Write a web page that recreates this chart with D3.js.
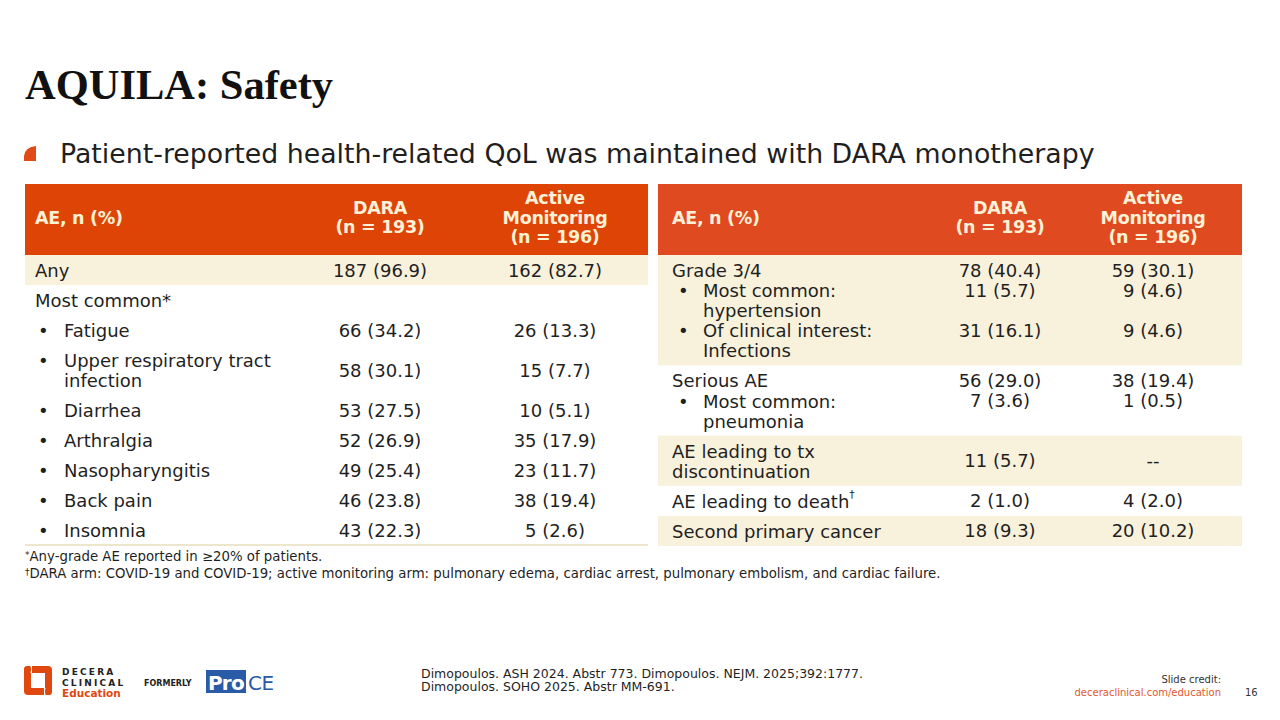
<!DOCTYPE html>
<html>
<head>
<meta charset="utf-8">
<script src="https://cdn.jsdelivr.net/npm/d3@7"></script>
<style>
  body { margin: 0; background: #fff; }
  svg { display: block; font-family: "DejaVu Sans", sans-serif; }
</style>
</head>
<body>
<svg id="slide" width="1280" height="720"></svg>
<script>
const TITLE = "AQUILA: Safety";
const SUBTITLE = "Patient-reported health-related QoL was maintained with DARA monotherapy";

const headerLabel = "AE, n (%)";
const headerDara = ["DARA", "(n = 193)"];
const headerAm = ["Active", "Monitoring", "(n = 196)"];

// left table: "• " marks a bullet item, "\n" a wrapped line
const leftLabels = ["Any", "Most common*", "• Fatigue", "• Upper respiratory tract\ninfection", "• Diarrhea",
    "• Arthralgia", "• Nasopharyngitis", "• Back pain", "• Insomnia"];
const leftDara = ["187 (96.9)", "", "66 (34.2)", "58 (30.1)", "53 (27.5)", "52 (26.9)", "49 (25.4)", "46 (23.8)", "43 (22.3)"];
const leftAm = ["162 (82.7)", "", "26 (13.3)", "15 (7.7)", "10 (5.1)", "35 (17.9)", "23 (11.7)", "38 (19.4)", "5 (2.6)"];
const leftGroups = [0, 1, 1, 1, 1, 1, 1, 1, 1];

const rightLabels = ["Grade 3/4", "• Most common:\nhypertension", "• Of clinical interest:\nInfections", "Serious AE",
    "• Most common:\npneumonia", "AE leading to tx\ndiscontinuation", "AE leading to death†", "Second primary cancer"];
const rightDara = ["78 (40.4)", "11 (5.7)", "31 (16.1)", "56 (29.0)", "7 (3.6)", "11 (5.7)", "2 (1.0)", "18 (9.3)"];
const rightAm = ["59 (30.1)", "9 (4.6)", "9 (4.6)", "38 (19.4)", "1 (0.5)", "--", "4 (2.0)", "20 (10.2)"];
const rightGroups = [0, 0, 0, 1, 1, 2, 3, 4];

const footnotes = [
    ["*", "Any-grade AE reported in ≥20% of patients."],
    ["†", "DARA arm: COVID-19 and COVID-19; active monitoring arm: pulmonary edema, cardiac arrest, pulmonary embolism, and cardiac failure."]
];
const references = [
    "Dimopoulos. ASH 2024. Abstr 773. Dimopoulos. NEJM. 2025;392:1777.",
    "Dimopoulos. SOHO 2025. Abstr MM-691."
];

const CREAM = "#f8f1db";
const HEAD_TEXT = "#fdf1d6";
const INK = "#1f1f1f";
const ORANGE = "#e0480f";
const BODY = 18;

const svg = d3.select("#slide");

// title + subtitle
svg.append("text")
    .attr("x", 25).attr("y", 99)
    .attr("font-family", "'Liberation Serif', serif")
    .attr("font-weight", 700)
    .attr("font-size", 42.5)
    .attr("fill", "#111")
    .text(TITLE);

svg.append("path")
    .attr("d", "M24,161 L24,156 Q25,147 36,146 L36,161 Z")
    .attr("fill", "#e04a17");

const sub = svg.append("text")
    .attr("x", 60).attr("y", 163)
    .attr("font-size", 25)
    .attr("fill", INK)
    .text(SUBTITLE);
// fit the line to the width it takes on the slide
const subW = sub.node().getComputedTextLength();
sub.attr("font-size", 25 * 1035 / subW);

function addLabel(g, str, x, y, size) {
    const t = g.append("text")
        .attr("x", x).attr("y", y)
        .attr("dominant-baseline", "central")
        .attr("font-size", size)
        .attr("fill", INK);
    const parts = str.split("†");
    t.append("tspan").text(parts[0]);
    if (parts.length > 1) {
        t.append("tspan")
            .attr("font-size", size * 0.6)
            .attr("dy", -7)
            .text("†");
    }
    return t;
}

function drawTable(cfg) {
    const g = svg.append("g");
    const lineH = 20;
    const rows = cfg.labels.map((label, i) => ({
        label, dara: cfg.dara[i], am: cfg.am[i], group: cfg.groups[i]
    }));
    const grouped = d3.groups(rows, d => d.group);

    let cursor = 0;
    const layout = [];
    grouped.forEach(([key, entries]) => {
        const top = cursor;
        cursor += (10 - cfg.pad) / 2;
        entries.forEach(e => {
            e.bullet = e.label.startsWith("• ");
            e.lines = (e.bullet ? e.label.slice(2) : e.label).split("\n");
            e.top = cursor;
            e.h = e.lines.length * lineH + cfg.pad;
            cursor += e.h;
        });
        cursor += (10 - cfg.pad) / 2;
        layout.push({ key, top, bottom: cursor, entries });
    });

    const y = d3.scaleLinear().domain([0, cursor]).range([cfg.bodyTop, cfg.bodyBottom]);
    const col = d3.scaleOrdinal().domain(["label", "bullet", "text", "dara", "am"]).range(cfg.colX);

    // header
    g.append("rect")
        .attr("x", cfg.x0).attr("y", cfg.headTop)
        .attr("width", cfg.x1 - cfg.x0).attr("height", cfg.bodyTop - cfg.headTop)
        .attr("fill", cfg.headFill);
    const headMid = (cfg.headTop + cfg.bodyTop) / 2 - 2;
    const headCell = (lines, x, anchor) => {
        lines.forEach((s, i) => {
            g.append("text")
                .attr("x", x)
                .attr("y", headMid + (i - (lines.length - 1) / 2) * 19.5)
                .attr("dominant-baseline", "central")
                .attr("text-anchor", anchor)
                .attr("font-size", 17.5).attr("font-weight", 700)
                .attr("letter-spacing", -0.3)
                .attr("fill", HEAD_TEXT)
                .text(s);
        });
    };
    headCell([headerLabel], col("label"), "start");
    headCell(headerDara, col("dara"), "middle");
    headCell(headerAm, col("am"), "middle");

    // bands
    g.selectAll("rect.band")
        .data(layout.filter((d, i) => cfg.shade(i)))
        .join("rect")
        .attr("class", "band")
        .attr("x", cfg.x0).attr("width", cfg.x1 - cfg.x0)
        .attr("y", d => y(d.top))
        .attr("height", d => y(d.bottom) - y(d.top))
        .attr("fill", CREAM);

    // cells
    layout.forEach(grp => {
        grp.entries.forEach(e => {
            const lineY = i => y(e.top + cfg.pad / 2 + lineH / 2 + i * lineH);
            if (e.bullet) {
                addLabel(g, "•", col("bullet"), lineY(0), BODY);
            }
            e.lines.forEach((s, i) => {
                addLabel(g, s, e.bullet ? col("text") : col("label"), lineY(i), BODY);
            });
            const vy = (cfg.centerValues || grp.entries.length === 1)
                ? y(e.top + e.h / 2) : lineY(0);
            [["dara", e.dara], ["am", e.am]].forEach(([k, v]) => {
                g.append("text")
                    .attr("x", col(k)).attr("y", vy)
                    .attr("dominant-baseline", "central")
                    .attr("text-anchor", "middle")
                    .attr("font-size", BODY)
                    .attr("fill", INK)
                    .text(v);
            });
        });
    });

    if (cfg.rule) {
        g.append("line")
            .attr("x1", cfg.x0).attr("x2", cfg.x1)
            .attr("y1", cfg.bodyBottom).attr("y2", cfg.bodyBottom)
            .attr("stroke", "#e8ddbc").attr("stroke-width", 1.5);
    }
}

drawTable({
    labels: leftLabels, dara: leftDara, am: leftAm, groups: leftGroups,
    x0: 25, x1: 648, headTop: 184, bodyTop: 255, bodyBottom: 545,
    colX: [35, 38, 64, 380, 555],
    headFill: "#df4407", pad: 10, centerValues: true,
    shade: i => i === 0, rule: true
});

drawTable({
    labels: rightLabels, dara: rightDara, am: rightAm, groups: rightGroups,
    x0: 658, x1: 1242, headTop: 184, bodyTop: 255, bodyBottom: 546,
    colX: [672, 678, 703, 1000, 1153],
    headFill: "#e04a20", pad: 0, centerValues: false,
    shade: i => i % 2 === 0, rule: false
});

// footnotes
footnotes.forEach(([mark, s], i) => {
    const t = svg.append("text")
        .attr("x", 25).attr("y", 561 + i * 17)
        .attr("font-size", 13.3)
        .attr("fill", INK);
    t.append("tspan").attr("font-size", 9).attr("dy", -3).text(mark);
    t.append("tspan").attr("dy", 3).text(s);
});

// footer: logo, a frame broken at two corners
const logo = svg.append("g").attr("fill", ORANGE);
logo.append("rect").attr("x", 24).attr("y", 666).attr("width", 28).attr("height", 29).attr("rx", 4);
logo.append("rect").attr("x", 31).attr("y", 673).attr("width", 14).attr("height", 15).attr("fill", "#fff");
logo.append("rect").attr("x", 30.5).attr("y", 666).attr("width", 1.5).attr("height", 7).attr("fill", "#fff");
logo.append("rect").attr("x", 44).attr("y", 688).attr("width", 1.5).attr("height", 7).attr("fill", "#fff");
logo.append("circle").attr("cx", 27.5).attr("cy", 669.5).attr("r", 3.5);
logo.append("circle").attr("cx", 48.5).attr("cy", 691.5).attr("r", 3.5);

[["DECERA", 675], ["CLINICAL", 685.5]].forEach(([s, yy]) => {
    svg.append("text")
        .attr("x", 62).attr("y", yy)
        .attr("font-size", 9).attr("font-weight", 700)
        .attr("letter-spacing", 2.2)
        .attr("fill", "#222").text(s);
});
svg.append("text")
    .attr("x", 62).attr("y", 696.5)
    .attr("font-size", 10.5).attr("font-weight", 700)
    .attr("fill", ORANGE).text("Education");
svg.append("text")
    .attr("x", 144).attr("y", 686)
    .attr("font-size", 8).attr("font-weight", 700)
    .attr("fill", "#222").text("FORMERLY");
svg.append("rect")
    .attr("x", 206).attr("y", 670).attr("width", 40).attr("height", 23)
    .attr("fill", "#2a5ba6");
svg.append("text")
    .attr("x", 208).attr("y", 690)
    .attr("font-size", 20).attr("font-weight", 700)
    .attr("letter-spacing", -0.8)
    .attr("fill", "#fff").text("Pro");
svg.append("text")
    .attr("x", 248).attr("y", 690)
    .attr("font-size", 20)
    .attr("letter-spacing", -0.5)
    .attr("fill", "#2a5ba6").text("CE");

// references
references.forEach((s, i) => {
    svg.append("text")
        .attr("x", 421).attr("y", 678 + i * 13)
        .attr("font-size", 12.5)
        .attr("fill", INK).text(s);
});

svg.append("text")
    .attr("x", 1221).attr("y", 683)
    .attr("text-anchor", "end")
    .attr("font-size", 10).attr("fill", "#333")
    .text("Slide credit:");
svg.append("text")
    .attr("x", 1221).attr("y", 696)
    .attr("text-anchor", "end")
    .attr("font-size", 10).attr("fill", "#e4572e")
    .text("deceraclinical.com/education");
svg.append("text")
    .attr("x", 1245).attr("y", 696)
    .attr("font-size", 10).attr("fill", "#333")
    .text("16");
</script>
</body>
</html>
